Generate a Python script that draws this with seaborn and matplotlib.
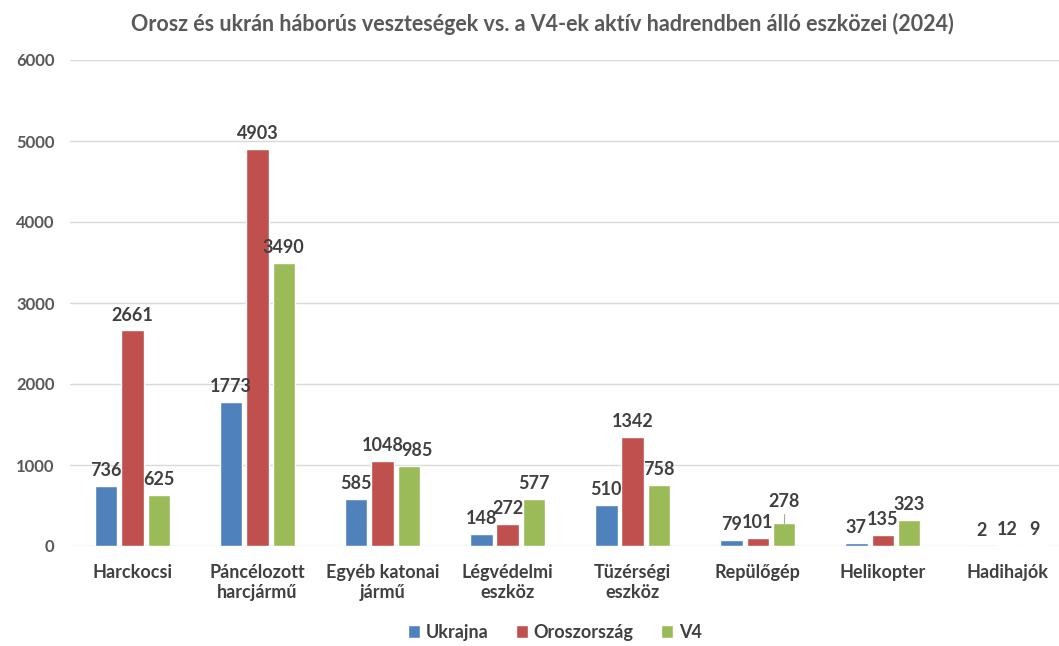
import pandas as pd
import seaborn as sns
import matplotlib.pyplot as plt

# adatok
kategoriak = ['Harckocsi', 'Páncélozott\nharcjármű', 'Egyéb katonai\njármű', 'Légvédelmi\neszköz',
              'Tüzérségi\neszköz', 'Repülőgép', 'Helikopter', 'Hadihajók']
ukrajna = [736, 1773, 585, 148, 510, 79, 37, 2]
oroszorszag = [2661, 4903, 1048, 272, 1342, 101, 135, 12]
v4 = [625, 3490, 985, 577, 758, 278, 323, 9]
sorozatok = ['Ukrajna', 'Oroszország', 'V4']
szinek = ['#4F81BD', '#C0504D', '#9BBB59']

df = pd.DataFrame({
    'kategoria': kategoriak * 3,
    'ertek': ukrajna + oroszorszag + v4,
    'sorozat': [s for s in sorozatok for _ in kategoriak],
})

sns.set_style('white')
plt.rcParams['font.family'] = ['Lato', 'DejaVu Sans']

fig = plt.figure(figsize=(10.59, 6.46), dpi=100)
ax = fig.add_axes([70 / 1059, 100 / 646, 989 / 1059, 486 / 646])

sns.barplot(data=df, x='kategoria', y='ertek', hue='sorozat', palette=szinek,
            saturation=1, width=0.63, gap=0.15, ax=ax, legend=True)

ax.set_xlim(-0.5, 7.41)
ax.set_ylim(0, 6000)
ax.set_yticks(range(0, 6001, 1000))
ax.grid(axis='y', color='#D9D9D9', linewidth=1)
ax.set_axisbelow(True)
for s in ax.spines.values():
    s.set_visible(False)
ax.tick_params(length=0)
ax.tick_params(axis='y', pad=11, labelsize=12, labelcolor='#595959')
ax.tick_params(axis='x', pad=13, labelsize=13, labelcolor='#404040')
for t in ax.get_xticklabels() + ax.get_yticklabels():
    t.set_fontweight('bold')
ax.set_xlabel('')
ax.set_ylabel('')

# adatfeliratok
for cont in ax.containers:
    for bar in cont:
        h = bar.get_height()
        x = bar.get_x() + bar.get_width() / 2
        off = 5
        dx = 0
        if round(h) == 278:
            off = 10
            ax.plot([x, x], [h + 6, h + 117], color='#A6A6A6', lw=0.8)
        if round(h) == 985:
            dx = 6
        ax.annotate(f'{int(round(h))}', (x, h), xytext=(dx, off), textcoords='offset points',
                    ha='center', va='bottom', fontsize=13, fontweight='bold', color='#404040')

ax.set_title('Orosz és ukrán háborús veszteségek vs. a V4-ek aktív hadrendben álló eszközei (2024)',
             fontsize=15.5, fontweight='bold', color='#595959', pad=21, x=0.478)

handles, labels = ax.get_legend_handles_labels()
leg = ax.legend(handles, labels, loc='lower center', bbox_to_anchor=(0.49, -0.228), ncol=3,
                frameon=False, handlelength=0.7, handleheight=0.7, handletextpad=0.3,
                columnspacing=1.5, fontsize=13)
for t in leg.get_texts():
    t.set_fontweight('bold')
    t.set_color('#404040')

plt.savefig('out.png', dpi=100)
